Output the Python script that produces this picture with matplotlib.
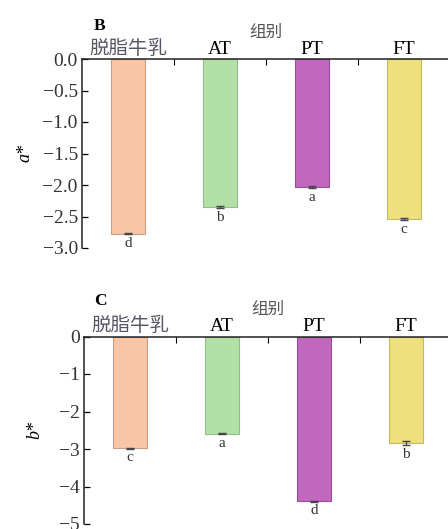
import matplotlib
matplotlib.use("Agg")
import matplotlib.pyplot as plt
from matplotlib.ticker import MultipleLocator, FixedLocator

plt.rcParams['font.family'] = ['Liberation Serif', 'Noto Sans CJK SC', 'DejaVu Sans']
plt.rcParams['axes.unicode_minus'] = True

groups = ['脱脂牛乳', 'AT', 'PT', 'FT']
colors = ['#F8C6A4', '#B3E0A6', '#C167BF', '#EFE07E']
edges = ['#C99E86', '#93BD88', '#9C4D9A', '#C7B960']

# a* values (panel B)
a_vals = [-2.77, -2.35, -2.03, -2.54]
a_err = [0.01, 0.01, 0.01, 0.01]
a_sig = ['d', 'b', 'a', 'c']

# b* values (panel C)
b_vals = [-2.98, -2.59, -4.39, -2.84]
b_err = [0.01, 0.02, 0.01, 0.06]
b_sig = ['c', 'a', 'd', 'b']

W, H = 448, 529
fig = plt.figure(figsize=(W / 100, H / 100), dpi=100)


def panel(rect, vals, errs, sig, ylim, step, fmt, ylab, ylab_x, tag, off):
    ax = fig.add_axes(rect)
    x = list(range(len(groups)))
    ax.bar(x, vals, width=0.38, color=colors, edgecolor=edges, linewidth=0.8,
           yerr=errs, error_kw=dict(ecolor='#444444', elinewidth=0.9,
                                    capsize=3, capthick=1.0))
    for xi, v, e, s in zip(x, vals, errs, sig):
        ax.text(xi, v - e - off, s, ha='center', va='top', fontsize=11,
                color='#333333')
    ax.set_xlim(-0.5, 3.5)
    ax.set_ylim(*ylim)
    ax.xaxis.tick_top()
    ax.xaxis.set_label_position('top')
    ax.set_xticks(x)
    ax.set_xticklabels(groups, fontsize=14)
    ax.get_xticklabels()[0].set_color('#555566')
    ax.xaxis.set_minor_locator(FixedLocator([0.5, 1.5, 2.5]))
    ax.tick_params(axis='x', which='major', length=0, pad=1)
    ax.tick_params(axis='x', which='minor', direction='in', length=4,
                   width=0.8, top=True, bottom=False)
    ax.yaxis.set_major_locator(MultipleLocator(step))
    ax.yaxis.set_major_formatter(fmt)
    ax.tick_params(axis='y', direction='in', length=4, width=0.9,
                   labelsize=14, labelcolor='#333333', pad=3)
    ax.set_xlabel('组别', fontsize=12, color='#555555', labelpad=2)
    ax.set_ylabel(ylab, fontsize=13, style='italic')
    ax.yaxis.set_label_coords(ylab_x, 0.5)
    for side in ('right', 'bottom'):
        ax.spines[side].set_visible(False)
    for side in ('top', 'left'):
        ax.spines[side].set_linewidth(1.1)
        ax.spines[side].set_color('#222222')
    fig.text(tag[1] / W, 1 - tag[2] / H, tag[0], fontsize=12.5, fontweight='bold',
             ha='center', va='center')
    return ax


panel([82 / W, 1 - 248 / H, 368 / W, 189 / H], a_vals, a_err, a_sig,
      (-3.0, 0.0), 0.5, '{x:.1f}', 'a*', -0.133, ('B', 100, 26), 0.05)
panel([84 / W, 1 - 524 / H, 368 / W, 187.5 / H], b_vals, b_err, b_sig,
      (-5.0, 0.0), 1, '{x:.0f}', 'b*', -0.11, ('C', 100, 301), 0.06)

fig.savefig('out.png', dpi=100)
